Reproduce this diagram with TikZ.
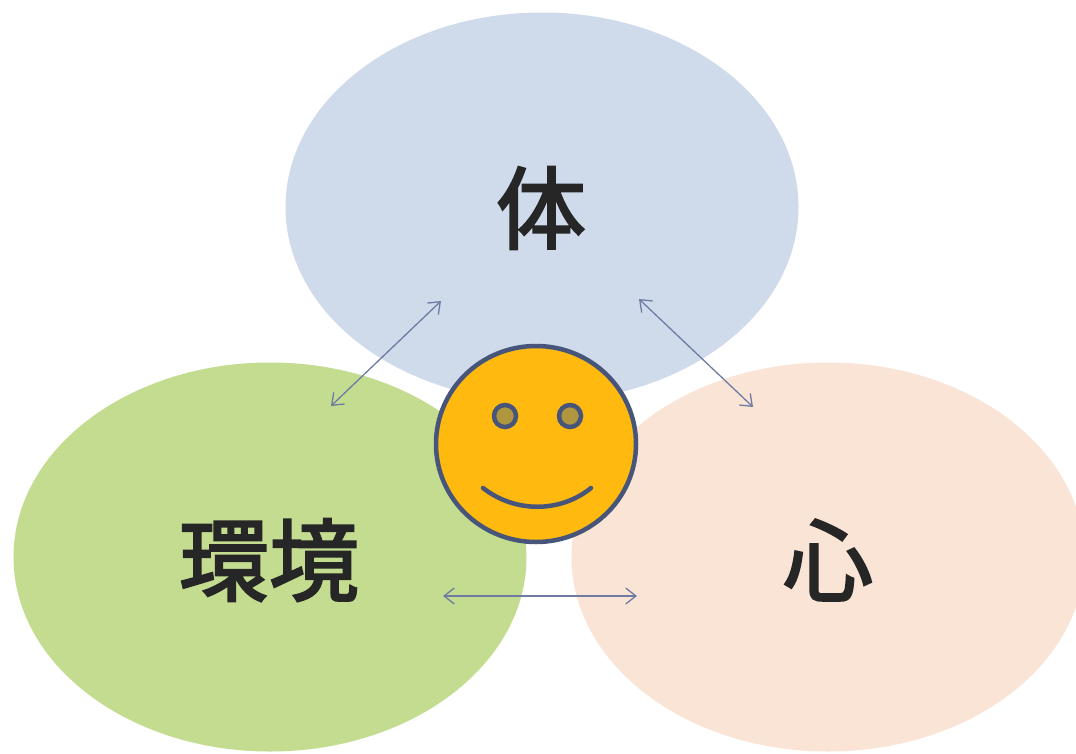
\documentclass[tikz,border=0pt]{standalone}
\usepackage{fontspec}
\newfontfamily\cjk[FakeBold=2.5]{Noto Sans CJK JP}
\usetikzlibrary{arrows.meta, positioning, shapes.geometric}
\definecolor{bodyblue}{HTML}{CFDAEB}
\definecolor{envgreen}{HTML}{C3DC8F}
\definecolor{mindpeach}{HTML}{F9E4D6}
\definecolor{faceyellow}{HTML}{FFB90F}
\definecolor{faceline}{HTML}{47557A}
\definecolor{eyefill}{HTML}{B0973F}
\definecolor{linkblue}{HTML}{6E7CA3}
\begin{document}
\begin{tikzpicture}[
    x=1pt, y=-1pt,
    blob/.style={ellipse, inner sep=0pt, minimum width=513pt, minimum height=389pt},
    word/.style={font=\cjk\fontsize{90pt}{94pt}\selectfont, text=black!85},
    eye/.style={circle, draw=faceline, line width=4.5pt, fill=eyefill, minimum size=22pt, inner sep=0pt},
    link/.style={draw=linkblue, line width=1.3pt, {Straight Barb[length=3.6mm,width=5.6mm]}-{Straight Barb[length=3.6mm,width=5.6mm]}}
]
    \useasboundingbox (0,0) rectangle (1076,753);
    \fill[white] (0,0) rectangle (1076,753);

    \node[blob, fill=bodyblue] (bodyblob) at (542,207) {};
    \node[blob, fill=envgreen] (envblob) at (270,557) {};
    \node[blob, fill=mindpeach] (mindblob) at (828,557) {};

    \node[word] (body) at (541,208) {体};
    \node[word] (env) at (269,560) {環境};
    \node[word] (mind) at (828,560) {心};

    \coordinate (a1) at (441,301);
    \coordinate (a2) at (331,406);
    \coordinate (b1) at (639,299);
    \coordinate (b2) at (753,407);
    \coordinate (c1) at (443,596);
    \coordinate (c2) at (637,596);
    \draw[link] (a1) -- (a2);
    \draw[link] (b1) -- (b2);
    \draw[link] (c1) -- (c2);

    \node[ellipse, fill=faceyellow, draw=faceline, line width=4.5pt, minimum width=200pt, minimum height=196pt, inner sep=0pt] (face) at (536,444) {};
    \node[eye] (lefteye) at (505,416) {};
    \node[eye] (righteye) at (570,416) {};
    \coordinate (s1) at (483,488);
    \coordinate (s2) at (591,488);
    \draw[faceline, line width=4.5pt, line cap=round] (s1) .. controls (515,513) and (560,513) .. (s2);
\end{tikzpicture}
\end{document}
